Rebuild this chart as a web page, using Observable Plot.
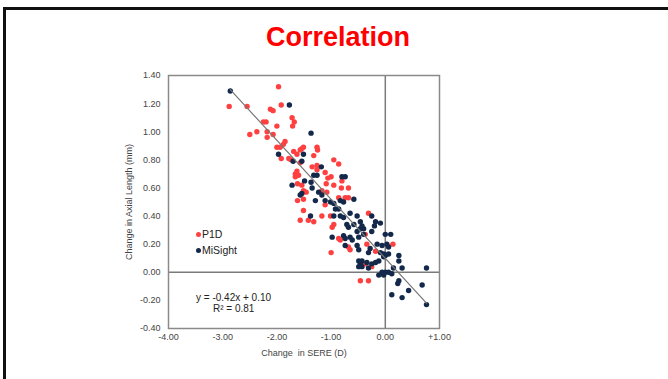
<!DOCTYPE html>
<html>
<head>
<meta charset="utf-8">
<script src="https://cdn.jsdelivr.net/npm/d3@7"></script>
<script src="https://cdn.jsdelivr.net/npm/@observablehq/plot@0.6"></script>
<style>
  html, body { margin: 0; padding: 0; background: #fff; }
  #wrap { position: relative; width: 668px; height: 379px; overflow: hidden; font-family: "Liberation Sans", Arial, sans-serif; }
  #border { position: absolute; left: 3px; top: 7px; width: 700px; height: 400px; border-top: 3px solid #111; border-left: 3px solid #111; }
  #title { position: absolute; left: 0; width: 676px; top: 22px; text-align: center; color: #ff0000; font-weight: bold; font-size: 27px; }
  #chart { position: absolute; left: 0; top: 0; }
  .lg { position: absolute; font-size: 10.5px; color: #222; white-space: nowrap; line-height: 12px; }
  .lg .dot { display: inline-block; width: 5px; height: 5px; border-radius: 50%; margin-right: 1px; vertical-align: 1px; }
  .eq { position: absolute; font-size: 10px; color: #222; white-space: nowrap; line-height: 10px; height: 10px; }
</style>
</head>
<body>
<div id="wrap">
  <div id="border"></div>
  <div id="chart"></div>
  <div id="title">Correlation</div>
  <div class="lg" style="left:196px; top:228px;"><span class="dot" style="background:#ff4040"></span>P1D</div>
  <div class="lg" style="left:196px; top:244px;"><span class="dot" style="background:#13284a"></span>MiSight</div>
  <div class="eq" style="left:196px; top:293px;">y = -0.42x + 0.10</div>
  <div class="eq" style="left:213px; top:304px;">R² = 0.81</div>
</div>
<script>
// P1D series (red)
const p1dX = [-1.97,-2.88,-2.55,-1.92,-2.12,-2.07,-1.72,-1.68,-1.71,-2.25,-2.20,-2.00,-2.37,-2.50,-2.18,-2.07,-2.18,-1.85,-1.88,-2.00,-1.94,-1.69,-1.92,-1.78,-1.74,-1.66,-1.51,-1.54,-1.57,-1.63,-1.26,-1.25,-1.32,-1.57,-1.63,-1.66,-1.60,-1.35,-1.26,-1.26,-0.95,-0.86,-1.11,-1.00,-1.06,-1.62,-1.54,-1.09,-0.95,-1.17,-0.80,-0.81,-0.68,-1.51,-1.46,-1.51,-1.62,-1.08,-0.86,-0.74,-0.68,-1.11,-1.51,-1.57,-1.42,-1.32,-1.17,-1.01,-0.95,-0.98,-0.86,-0.83,-0.68,-0.65,-1.00,-0.31,-0.37,-0.34,0.14,-0.18,-0.37,-0.25,-0.46,-0.31];
const p1dY = [1.32,1.18,1.18,1.19,1.16,1.15,1.10,1.07,1.04,1.07,1.07,1.04,1.00,0.98,1.00,0.98,0.96,0.93,0.91,0.89,0.89,0.86,0.81,0.81,0.80,0.68,0.89,0.88,0.87,0.84,0.89,0.87,0.83,0.78,0.72,0.70,0.69,0.75,0.76,0.73,0.80,0.77,0.71,0.68,0.67,0.63,0.62,0.63,0.62,0.58,0.65,0.60,0.60,0.58,0.57,0.52,0.51,0.57,0.53,0.53,0.53,0.48,0.44,0.37,0.37,0.36,0.40,0.40,0.34,0.32,0.24,0.23,0.18,0.16,0.14,0.42,0.27,0.20,0.20,0.15,0.06,0.04,-0.06,-0.06];
// MiSight series (navy)
const miX = [-2.86,-1.77,-1.97,-1.70,-1.72,-1.37,-1.51,-1.54,-1.18,-1.32,-1.26,-1.49,-1.37,-1.35,-0.80,-0.74,-1.23,-1.54,-1.57,-1.17,-1.29,-1.11,-1.01,-0.95,-0.83,-0.77,-0.58,-0.92,-0.86,-0.95,-0.83,-0.77,-1.38,-0.65,-0.52,-0.46,-0.58,-0.71,-0.68,-0.46,-0.52,-0.40,-0.98,-0.77,-0.74,-0.65,-0.61,-0.49,-0.74,-0.52,-0.49,-0.49,-0.46,-0.49,-0.25,-0.18,-0.09,-0.20,-0.43,-0.40,-0.25,0.00,0.10,-0.15,-0.06,0.03,0.06,-0.28,-0.31,-0.09,-0.03,0.00,0.06,0.25,0.25,-0.43,-0.34,-0.25,-0.18,-0.12,-0.03,-0.43,-0.31,0.15,0.31,0.76,-0.06,0.00,0.06,0.12,-0.03,-0.12,0.25,0.23,0.68,0.43,0.12,0.31,0.76];
const miY = [1.29,1.19,0.84,0.79,0.62,0.99,0.84,0.79,0.75,0.69,0.69,0.65,0.64,0.60,0.68,0.68,0.57,0.56,0.55,0.55,0.51,0.51,0.50,0.49,0.51,0.50,0.52,0.45,0.45,0.40,0.40,0.39,0.40,0.42,0.40,0.36,0.34,0.34,0.32,0.31,0.29,0.27,0.25,0.26,0.24,0.25,0.23,0.25,0.19,0.19,0.16,0.08,0.06,0.04,0.40,0.36,0.35,0.33,0.33,0.31,0.29,0.27,0.27,0.20,0.19,0.20,0.18,0.17,0.14,0.14,0.13,0.12,0.13,0.12,0.08,0.08,0.07,0.06,0.07,0.08,0.11,0.04,0.03,0.03,0.03,0.03,0.00,0.00,0.00,-0.01,-0.02,-0.02,-0.06,-0.08,-0.09,-0.13,-0.16,-0.18,-0.23];
// Trend line endpoints (y = -0.42x + 0.10)
const fitX = [-2.86, 0.76];
const fitY = [1.30, -0.22];
// Tick values
const xTicks = [-4, -3, -2, -1, 0, 1];
const yTicks = [-0.4, -0.2, 0, 0.2, 0.4, 0.6, 0.8, 1.0, 1.2, 1.4];

const p1d = p1dX.map((x, i) => ({x, y: p1dY[i]}));
const mi = miX.map((x, i) => ({x, y: miY[i]}));
const fit = fitX.map((x, i) => ({x, y: fitY[i]}));

const chart = Plot.plot({
  width: 668,
  height: 379,
  marginTop: 75,
  marginLeft: 168,
  marginRight: 229,
  marginBottom: 51,
  style: {fontFamily: "Liberation Sans, Arial, sans-serif", fontSize: "9px", color: "#444", background: "transparent"},
  x: {domain: [-4, 1]},
  y: {domain: [-0.4, 1.4]},
  marks: [
    Plot.axisX({ticks: xTicks, tickSize: 0, tickPadding: 5, tickFormat: d => (d > 0 ? "+" : d < 0 ? "-" : "") + Math.abs(d).toFixed(2), label: "Change  in SERE (D)", labelAnchor: "center", labelOffset: 27, labelArrow: "none", fontSize: 9, fill: "#444"}),
    Plot.axisY({ticks: yTicks, tickSize: 0, tickPadding: 8, tickFormat: d => (d < 0 ? "-" : "") + Math.abs(d).toFixed(2), label: "Change in Axial Length (mm)", labelAnchor: "center", labelOffset: 43, labelArrow: "none", fontSize: 9, fill: "#444"}),
    Plot.ruleX([0], {stroke: "#7a7a7a", strokeWidth: 1.5}),
    Plot.ruleY([0], {stroke: "#7a7a7a", strokeWidth: 1.5}),
    Plot.frame({stroke: "#8a8a8a", strokeWidth: 1.5}),
    Plot.dot(p1d, {x: "x", y: "y", r: 2.7, fill: "#ff4040", stroke: "none"}),
    Plot.dot(mi, {x: "x", y: "y", r: 2.7, fill: "#13284a", stroke: "none"}),
    Plot.line(fit, {x: "x", y: "y", stroke: "#777", strokeWidth: 1.2})
  ]
});
document.getElementById("chart").appendChild(chart);
</script>
</body>
</html>
